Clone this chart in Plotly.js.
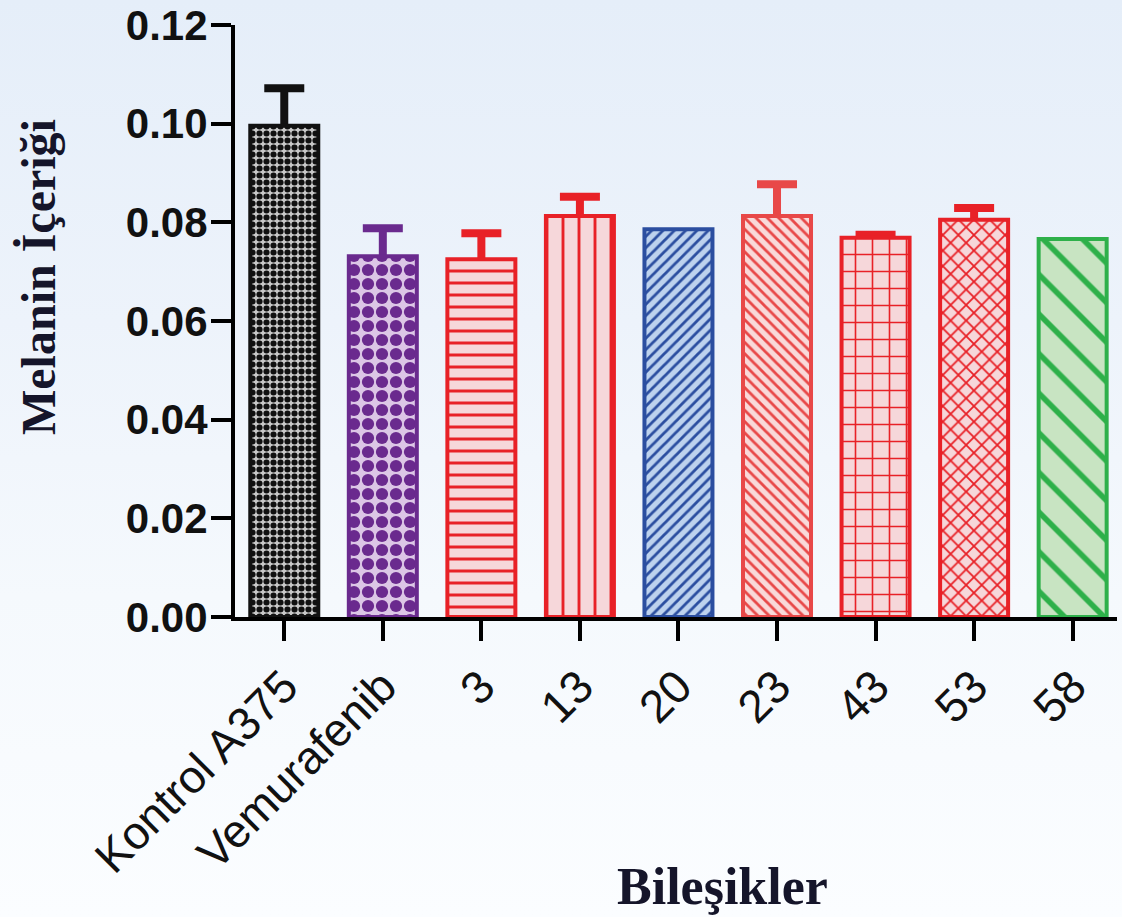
<!DOCTYPE html>
<html>
<head>
<meta charset="utf-8">
<script src="https://cdn.plot.ly/plotly-3.0.1.min.js"></script>
<style>
  html, body { margin: 0; padding: 0; }
  body {
    width: 1122px; height: 917px; overflow: hidden;
    background: linear-gradient(to bottom, #e5eef9 0%, #edf3fb 35%, #f5f9fd 65%, #fbfdff 100%);
  }
  #chart { width: 1122px; height: 917px; }
</style>
</head>
<body>
<div id="chart"></div>
<script>
// ---- data ----
const categories = ["Kontrol A375", "Vemurafenib", "3", "13", "20", "23", "43", "53", "58"];
const melaninValues = [0.0996, 0.0731, 0.0725, 0.0813, 0.0786, 0.0813, 0.0769, 0.0805, 0.0766];
const errorUpper = [0.0076, 0.0057, 0.0053, 0.0039, null, 0.0064, 0.0006, 0.0024, null];
const yTickValues = [0, 0.02, 0.04, 0.06, 0.08, 0.10, 0.12];
const yTickLabels = ["0.00", "0.02", "0.04", "0.06", "0.08", "0.10", "0.12"];

// ---- styles ----
const lineColors = ["#111111", "#6a2a8e", "#e82127", "#e82127", "#2b4ea0", "#e84848", "#e82127", "#e82127", "#2eb04a"];
const fillColors = ["#c9c9c9", "#dcc6e6", "#f6d7da", "#f6d7da", "#bdd2ee", "#f9d9d9", "#f6d7da", "#f6d7da", "#c8e4c2"];
const patternShapes = [".", ".", "-", "|", "/", "\\", "+", "x", "\\"];
const patternSizes = [7, 14, 12, 16, 8, 8, 17, 11, 28];
const patternSolidity = [0.6, 0.6, 0.25, 0.18, 0.35, 0.35, 0.18, 0.3, 0.2];

// error-bar carrier traces (drawn first, so the real bars cover the lower part)
const errTraces = categories.map((c, i) => ({
  type: "bar",
  x: [c],
  y: [melaninValues[i]],
  width: 0.69,
  marker: { color: "rgba(0,0,0,0)", line: { width: 0 } },
  error_y: errorUpper[i] === null ? { visible: false } : {
    type: "data",
    symmetric: false,
    array: [errorUpper[i]],
    arrayminus: [0.01],
    color: lineColors[i],
    thickness: 8,
    width: 20
  },
  showlegend: false,
  hoverinfo: "skip"
}));

const barTraces = categories.map((c, i) => ({
  type: "bar",
  x: [c],
  y: [melaninValues[i]],
  width: 0.69,
  marker: {
    color: fillColors[i],
    line: { color: lineColors[i], width: 4 },
    pattern: {
      shape: patternShapes[i],
      fgcolor: lineColors[i],
      bgcolor: fillColors[i],
      size: patternSizes[i],
      solidity: patternSolidity[i],
      fillmode: "replace"
    }
  },
  showlegend: false,
  hoverinfo: "x+y"
}));

const layout = {
  width: 1122,
  height: 917,
  margin: { l: 235, r: 5, t: 25, b: 300, pad: 0 },
  paper_bgcolor: "rgba(0,0,0,0)",
  plot_bgcolor: "rgba(0,0,0,0)",
  barmode: "overlay",
  showlegend: false,
  xaxis: {
    type: "category",
    categoryorder: "array",
    categoryarray: categories,
    range: [-0.5, 8.45],
    showline: true,
    linecolor: "#000000",
    linewidth: 4,
    ticks: "outside",
    ticklen: 20,
    tickwidth: 4,
    tickcolor: "#000000",
    tickangle: -45,
    tickfont: { family: "Liberation Sans, Arial, sans-serif", size: 46, color: "#111111" },
    showgrid: false,
    zeroline: false,
    fixedrange: true
  },
  yaxis: {
    range: [0, 0.12],
    tickvals: yTickValues,
    ticktext: yTickLabels,
    showline: true,
    linecolor: "#000000",
    linewidth: 4,
    ticks: "outside",
    ticklen: 20,
    tickwidth: 4,
    tickcolor: "#000000",
    ticklabelstandoff: -5,
    tickfont: { family: "Liberation Sans, Arial, sans-serif", size: 42, color: "#111111", weight: 700 },
    showgrid: false,
    zeroline: false,
    fixedrange: true
  },
  annotations: [
    {
      text: "Melanin İçeriği",
      xref: "paper", yref: "paper",
      x: (38 - 235) / 882, y: (617 - 277) / 592,
      xanchor: "center", yanchor: "middle",
      textangle: -90,
      showarrow: false,
      font: { family: "Liberation Serif, Times New Roman, serif", size: 48, color: "#15152a", weight: 700 }
    },
    {
      text: "Bileşikler",
      xref: "paper", yref: "paper",
      x: (722 - 235) / 882, y: (617 - 886) / 592,
      xanchor: "center", yanchor: "middle",
      showarrow: false,
      font: { family: "Liberation Serif, Times New Roman, serif", size: 52, color: "#15152a", weight: 700 }
    }
  ]
};

Plotly.newPlot("chart", errTraces.concat(barTraces), layout, { staticPlot: true, displayModeBar: false });
</script>
</body>
</html>
